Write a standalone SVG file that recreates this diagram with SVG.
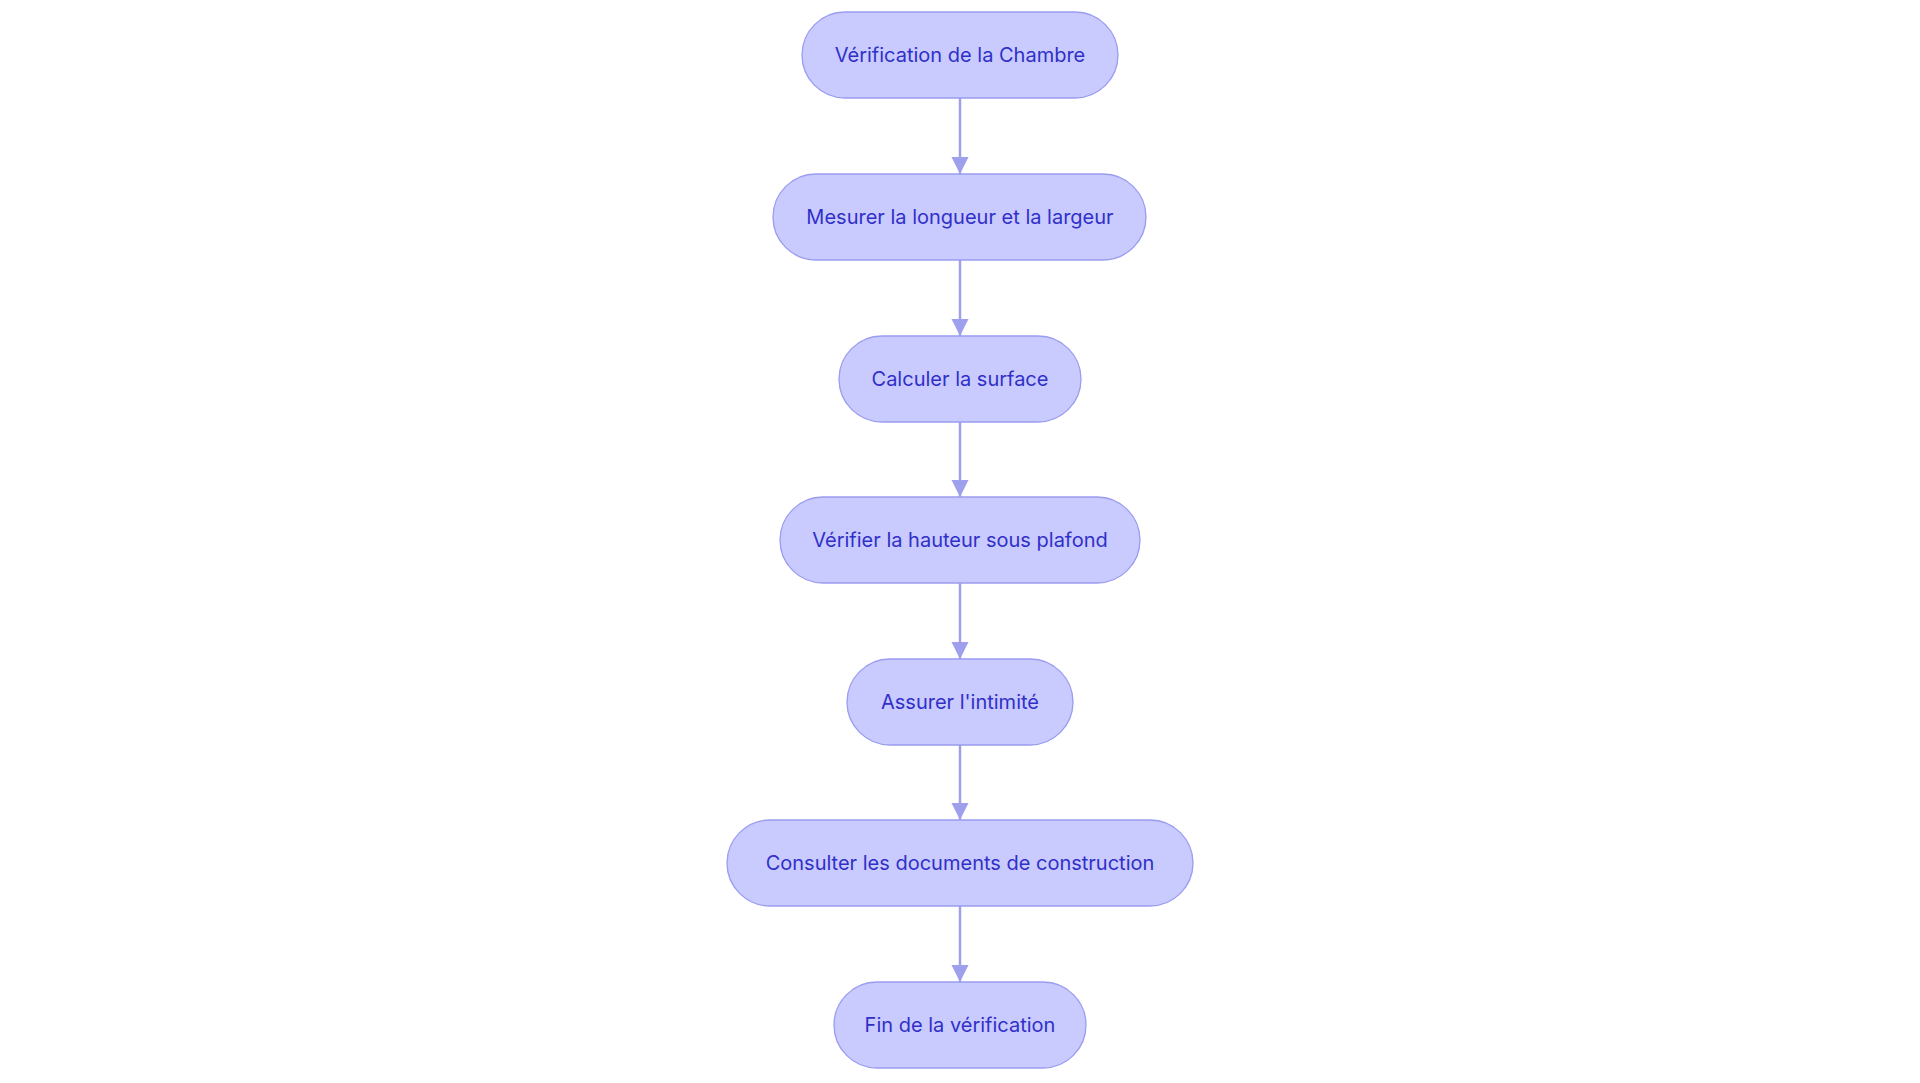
<svg xmlns="http://www.w3.org/2000/svg" width="1920" height="1083" viewBox="0 0 1920 1083">
<style>
.n rect{fill:#c9cafe;stroke:#9a9cf0;stroke-width:1.3}
.n text{font-family:Inter,"Noto Sans",sans-serif;font-size:20px;fill:#3030c8;text-anchor:middle;dominant-baseline:central}
.e path{stroke:#9ea0ee;stroke-width:2.5;fill:none;marker-end:url(#a)}
</style>
<defs><marker id="a" viewBox="0 0 10 10" refX="10" refY="5" markerWidth="7" markerHeight="7" markerUnits="strokeWidth" orient="auto"><path d="M0,0L10,5L0,10z" fill="#9ea0ee"/></marker></defs>
<rect width="1920" height="1083" fill="#fff"/>
<g class="e">
<path d="M960,98V174"/><path d="M960,260V336"/><path d="M960,422V497"/><path d="M960,583V659"/><path d="M960,745V820"/><path d="M960,906V982"/>
</g>
<g id="n1" class="n"><rect x="802" y="12" width="316" height="86" rx="43"/><text x="960" y="55">Vérification de la Chambre</text></g>
<g id="n2" class="n"><rect x="773" y="174" width="373" height="86" rx="43"/><text x="960" y="217">Mesurer la longueur et la largeur</text></g>
<g id="n3" class="n"><rect x="839" y="336" width="242" height="86" rx="43"/><text x="960" y="379">Calculer la surface</text></g>
<g id="n4" class="n"><rect x="780" y="497" width="360" height="86" rx="43"/><text x="960" y="540">Vérifier la hauteur sous plafond</text></g>
<g id="n5" class="n"><rect x="847" y="659" width="226" height="86" rx="43"/><text x="960" y="702">Assurer l'intimité</text></g>
<g id="n6" class="n"><rect x="727" y="820" width="466" height="86" rx="43"/><text x="960" y="863">Consulter les documents de construction</text></g>
<g id="n7" class="n"><rect x="834" y="982" width="252" height="86" rx="43"/><text x="960" y="1025">Fin de la vérification</text></g>
</svg>
